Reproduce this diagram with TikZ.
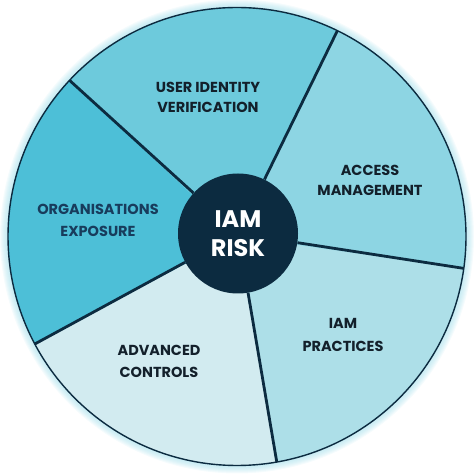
\documentclass[tikz,border=0pt]{standalone}
\usepackage{fontspec}
\setmainfont{Poppins}
\usetikzlibrary{positioning, calc}
\definecolor{navy}{HTML}{0C2B40}
\definecolor{inkdk}{HTML}{13202B}
\definecolor{inkbl}{HTML}{183C5C}
\definecolor{segorg}{HTML}{4DBFD7}
\definecolor{seguser}{HTML}{6DCADC}
\definecolor{segacc}{HTML}{8DD5E3}
\definecolor{segprac}{HTML}{ADDFE8}
\definecolor{segadv}{HTML}{D2EBF0}
\definecolor{glow}{HTML}{9FDDEA}

\begin{document}
\begin{tikzpicture}[
    x=1pt, y=1pt,
    label/.style={font=\bfseries\fontsize{14.5}{20}\selectfont, text=inkdk, align=center},
    divider/.style={draw=navy, line width=2.8pt},
  ]
  \useasboundingbox (0,0) rectangle (474,474);

  % Outer centre and radius
  \coordinate (o) at (237,237.5);
  \def\R{229}

  % === Soft halo round the wheel ===
  \foreach \i in {1,...,8}
    \fill[glow, opacity=0.10] (o) circle (\R+\i);

  % === Segments ===
  \fill[seguser] (o) -- ($(o)+(64:\R)$) arc[start angle=64, end angle=137, radius=\R] -- cycle;
  \fill[segorg]  (o) -- ($(o)+(137:\R)$) arc[start angle=137, end angle=208, radius=\R] -- cycle;
  \fill[segadv]  (o) -- ($(o)+(208:\R)$) arc[start angle=208, end angle=280, radius=\R] -- cycle;
  \fill[segprac] (o) -- ($(o)+(280:\R)$) arc[start angle=280, end angle=352, radius=\R] -- cycle;
  \fill[segacc]  (o) -- ($(o)+(-8:\R)$) arc[start angle=-8, end angle=64, radius=\R] -- cycle;

  % Outline
  \draw[navy, line width=1.4pt] (o) circle (\R);

  % === Centre ===
  \node[circle, fill=navy, minimum size=120pt, inner sep=0pt, text=white,
        font=\bfseries\fontsize{24}{29}\selectfont, align=center]
    (risk) at (238,240.5) {IAM\\RISK};

  % Divider ends on the rim
  \coordinate (d1) at ($(o)+(137:\R)$);
  \coordinate (d2) at ($(o)+(64:\R)$);
  \coordinate (d3) at ($(o)+(-8:\R)$);
  \coordinate (d4) at ($(o)+(280:\R)$);
  \coordinate (d5) at ($(o)+(208:\R)$);

  \draw[divider] (risk) -- (d1);
  \draw[divider] (risk) -- (d2);
  \draw[divider] (risk) -- (d3);
  \draw[divider] (risk) -- (d4);
  \draw[divider] (risk) -- (d5);

  % === Labels ===
  \node[label] (user) at (208,377) {USER IDENTITY\\VERIFICATION};
  \node[label] (access) at (370,294) {ACCESS\\MANAGEMENT};
  \node[label, text=inkbl, font=\bfseries\fontsize{14.5}{22}\selectfont]
    (org) at (98,254) {ORGANISATIONS\\EXPOSURE};
  \node[label, font=\bfseries\fontsize{14.5}{23}\selectfont]
    (prac) at (343,139) {IAM\\PRACTICES};
  \node[label, font=\bfseries\fontsize{14.5}{22}\selectfont]
    (adv) at (159,113) {ADVANCED\\CONTROLS};

\end{tikzpicture}
\end{document}
